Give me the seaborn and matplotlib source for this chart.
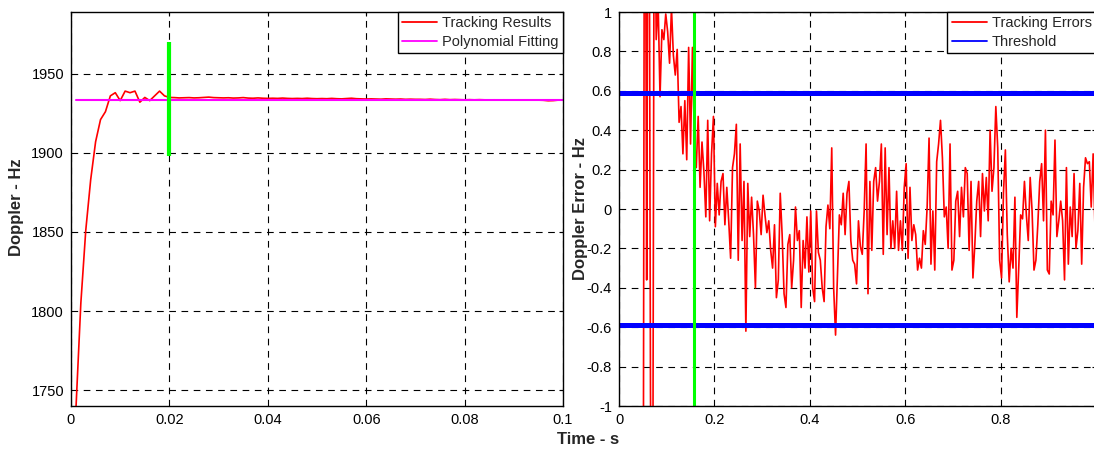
import numpy as np
import pandas as pd
import matplotlib
matplotlib.use("Agg")
import matplotlib.pyplot as plt
import seaborn as sns
from matplotlib.ticker import FuncFormatter

# ---------------- Left panel data ----------------
track_time = np.round(np.arange(1, 101) * 0.001, 3)
track_doppler = [
    1738, 1805, 1851, 1883, 1907, 1921, 1926, 1936, 1938, 1933,
    1939, 1938, 1939, 1932, 1935, 1933, 1936, 1939, 1936, 1935,
    1934.9, 1934.7, 1934.8, 1934.9, 1934.7, 1934.8, 1935.0, 1935.2, 1934.9, 1934.8,
    1934.7, 1934.8, 1934.6, 1934.7, 1934.9, 1934.6, 1934.5, 1934.7, 1934.5, 1934.4,
    1934.5, 1934.4, 1934.6, 1934.4, 1934.3, 1934.4, 1934.3, 1934.5, 1934.3, 1934.2,
    1934.3, 1934.2, 1934.4, 1934.2, 1934.1, 1934.3, 1934.5, 1934.2, 1934.1, 1934.0,
    1934.1, 1934.0, 1933.9, 1934.1, 1934.0, 1933.9, 1934.0, 1933.8, 1933.9, 1933.8,
    1933.8, 1933.7, 1933.9, 1933.7, 1933.6, 1933.8, 1933.6, 1933.7, 1933.6, 1933.5,
    1933.6, 1933.5, 1933.6, 1933.5, 1933.4, 1933.5, 1933.4, 1933.5, 1933.4, 1933.4,
    1933.5, 1933.4, 1933.3, 1933.4, 1933.3, 1933.2, 1932.9, 1933.0, 1933.3, 1933.4,
]
fit_time = [0.001, 0.1]
fit_doppler = [1933.4, 1933.4]
left_marker_time = 0.02
left_marker_span = (1898, 1970)
left_xticks = [0, 0.02, 0.04, 0.06, 0.08, 0.1]
left_yticks = [1750, 1800, 1850, 1900, 1950]

# ---------------- Right panel data ----------------
err_part_a = [-3.0, 3.0, -0.36, 3.0, -0.93, -2.5, 2.0, 0.86, 1.05, 0.57, 0.91, 0.86, 0.99, 0.90,
              0.74, 1.02, 0.78, 0.68, 0.81, 0.44, 0.52, 0.28, 0.55, 0.25, 0.82, 0.33, 0.82, 0.35]
err_part_b = [0.21, 0.47, 0.11, 0.34, 0.19, -0.04, 0.45, -0.06, 0.28, 0.47, -0.09, 0.13, -0.03, 0.14,
              0.18, -0.08, 0.11, -0.06, -0.25, 0.21, 0.28, 0.43, -0.26, 0.33, -0.16, 0.14, -0.62, 0.13,
              -0.14, 0.06, -0.13, -0.40, 0.04, -0.01, -0.13, 0.07, -0.03, -0.12, -0.06, -0.21, -0.30,
              -0.08, -0.45, -0.36, 0.08]
err_part_c = [-0.13, -0.43, -0.50, -0.18, -0.13, -0.40, -0.26, 0.01, -0.16, -0.11, -0.50, -0.16, -0.30,
              -0.04, -0.32, -0.01, -0.40, -0.47, -0.01, -0.22, -0.26, -0.40, -0.47, -0.09, 0.02, -0.10,
              0.31, -0.40, -0.64, -0.33, -0.03, -0.08, 0.08, -0.13, 0.08, 0.14, -0.16, -0.26, -0.28,
              -0.38, -0.06, -0.19]
err_part_d = [-0.23, -0.01, 0.33, -0.43, 0.14, -0.21, 0.14, 0.21, 0.04, 0.14, 0.33, -0.23, 0.31, -0.13,
              0.21, -0.20, -0.06, -0.20, 0.09, -0.21, -0.06, -0.21, 0.11, 0.23, -0.25, 0.11, -0.16,
              -0.08, -0.13, -0.31, -0.25, -0.30, -0.11, -0.18, 0.01, 0.36, -0.28, -0.01, -0.31, 0.24,
              0.33, 0.45]
err_part_e = [0.26, -0.04, 0.01, -0.20, 0.33, -0.31, -0.26, 0.04, 0.09, -0.14, 0.11, -0.04, 0.21, 0.18,
              -0.21, 0.14, -0.35, -0.18, 0.04, 0.14, -0.14, 0.18, -0.01, 0.16, -0.06, 0.40, 0.09, 0.21,
              0.52, 0.31, -0.26, -0.35, 0.08, 0.30, -0.13, -0.37, -0.20, -0.30, 0.06, -0.55, -0.30, -0.03]
err_part_f = [-0.05, 0.14, -0.03, -0.16, 0.16, -0.01, -0.31, -0.26, -0.08, 0.14, 0.23, -0.06, 0.40,
              -0.31, -0.33, 0.04, -0.03, 0.35, -0.14, -0.06, 0.04, -0.06, -0.36, 0.21, -0.28, 0.01,
              -0.14, 0.18, -0.20, -0.11, 0.13, -0.28, 0.11, 0.26, 0.23, 0.24, 0.01, 0.28, -0.11]
err_values = err_part_a + err_part_b + err_part_c + err_part_d + err_part_e + err_part_f
err_time = np.round(0.050 + 0.004 * np.arange(len(err_values)), 3)
threshold = 0.59
right_marker_time = 0.158
right_xticks = [0, 0.2, 0.4, 0.6, 0.8]
right_yticks = [-1, -0.8, -0.6, -0.4, -0.2, 0, 0.2, 0.4, 0.6, 0.8, 1]

# ---------------- Style ----------------
sns.set_style("white")
plt.rcParams["font.family"] = ["Liberation Sans", "DejaVu Sans"]
plt.rcParams["axes.linewidth"] = 1.0

RED, MAGENTA, BLUE, GREEN = "#ff0000", "#ff00ff", "#0000ff", "#00ff00"
TICK_FS = 10.5
LABEL_FS = 12
fmt = FuncFormatter(lambda v, p: "%g" % round(v, 6))

fig = plt.figure(figsize=(10.94, 4.49), dpi=100)
ax1 = fig.add_axes([71 / 1094, 43 / 449, 492 / 1094, 394 / 449])
ax2 = fig.add_axes([619 / 1094, 43 / 449, 477 / 1094, 394 / 449])

def style_axes(ax):
    ax.grid(True, linestyle=(0, (6, 5)), color="black", linewidth=0.8)
    ax.set_axisbelow(True)
    for s in ax.spines.values():
        s.set_color("black")
        s.set_linewidth(1.0)
    ax.tick_params(direction="in", length=3, width=0.8, labelsize=TICK_FS, colors="black",
                   top=True, right=True, pad=5)
    ax.xaxis.set_major_formatter(fmt)
    ax.yaxis.set_major_formatter(fmt)

# Left panel
df_track = pd.DataFrame({"t": track_time, "f": track_doppler})
df_fit = pd.DataFrame({"t": fit_time, "f": fit_doppler})
sns.lineplot(data=df_track, x="t", y="f", ax=ax1, color=RED, linewidth=1.2,
             label="Tracking Results", estimator=None, sort=False)
sns.lineplot(data=df_fit, x="t", y="f", ax=ax1, color=MAGENTA, linewidth=1.5,
             label="Polynomial Fitting", estimator=None, sort=False)
ax1.vlines(left_marker_time, left_marker_span[0], left_marker_span[1], color=GREEN, linewidth=3)
ax1.set_xlim(0, 0.1)
ax1.set_ylim(1740, 1989)
ax1.set_xticks(left_xticks)
ax1.set_yticks(left_yticks)
ax1.set_xlabel("")
ax1.set_ylabel("")
style_axes(ax1)

# Right panel
df_err = pd.DataFrame({"t": err_time, "e": err_values})
sns.lineplot(data=df_err, x="t", y="e", ax=ax2, color=RED, linewidth=1.2,
             label="Tracking Errors", estimator=None, sort=False)
ax2.axhline(threshold, color=BLUE, linewidth=3.6, label="Threshold")
ax2.axhline(-threshold, color=BLUE, linewidth=3.6)
ax2.axvline(right_marker_time, color=GREEN, linewidth=2.2)
ax2.set_xlim(0, 1)
ax2.set_ylim(-1, 1)
ax2.set_xticks(right_xticks)
ax2.set_yticks(right_yticks)
ax2.set_xlabel("")
ax2.set_ylabel("")
style_axes(ax2)

leg_kw = dict(loc="upper right", fontsize=TICK_FS, frameon=True, fancybox=False,
              borderaxespad=0, handlelength=2.4, handletextpad=0.35, borderpad=0.3,
              labelspacing=0.3, edgecolor="black", framealpha=1)
l1 = ax1.legend(**leg_kw)
l2 = ax2.legend(**leg_kw)
for lg in (l1, l2):
    lg.get_frame().set_linewidth(1.0)
    for h in lg.get_lines():
        h.set_linewidth(1.3)

fig.text(17 / 1094, 1 - 207 / 449, "Doppler - Hz", rotation=90, ha="center", va="center",
         fontsize=LABEL_FS, fontweight="bold")
fig.text(580 / 1094, 1 - 208 / 449, "Doppler Error - Hz", rotation=90, ha="center", va="center",
         fontsize=LABEL_FS, fontweight="bold")
fig.text(588 / 1094, 1 - 440 / 449, "Time - s", ha="center", va="center",
         fontsize=LABEL_FS, fontweight="bold")

fig.savefig("out.png", dpi=100)
